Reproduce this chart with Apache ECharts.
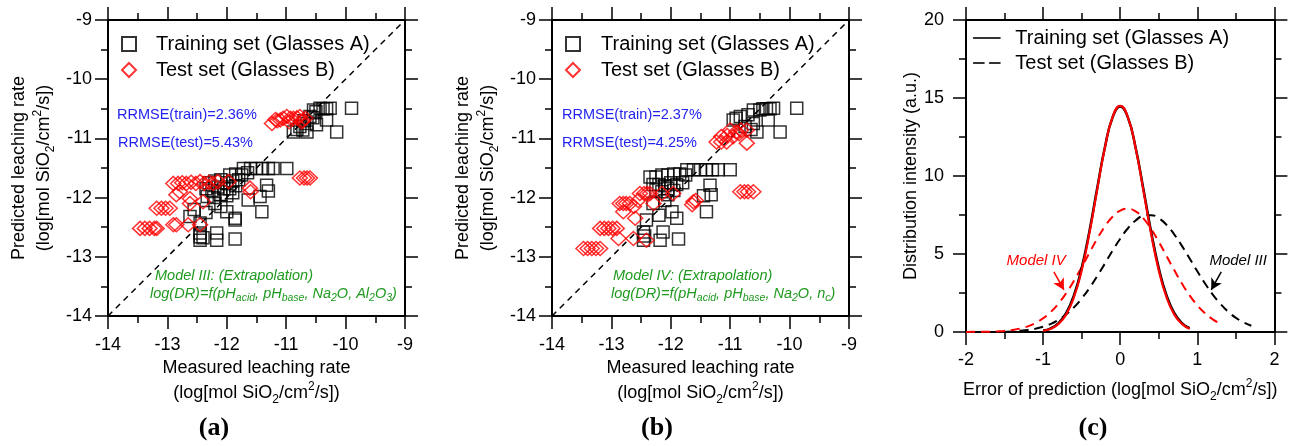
<!DOCTYPE html>
<html><head><meta charset="utf-8">
<script src="https://cdn.jsdelivr.net/npm/echarts@6/dist/echarts.min.js"></script>
<style>html,body{margin:0;padding:0;background:#fff}#c{width:1296px;height:446px}</style>
</head><body><div id="c"></div>
<script>
// ---------- DATA ----------
// Panel (a): Model III  [measured, predicted]
const aTrain = [
 [-9.90,-10.49],[-10.15,-10.89],[-10.26,-10.49],[-10.32,-10.50],[-10.38,-10.50],[-10.43,-10.49],[-10.50,-10.55],
 [-10.54,-10.52],[-10.60,-10.63],[-10.65,-10.75],[-10.70,-10.70],[-10.77,-10.80],[-10.82,-10.85],[-10.88,-10.89],
 [-10.65,-10.89],[-10.49,-10.77],[-10.32,-10.69],[-10.55,-10.65],[-10.72,-10.86],
 [-11.72,-11.51],[-11.60,-11.51],[-11.50,-11.51],[-11.40,-11.51],[-11.30,-11.51],[-11.22,-11.51],[-10.99,-11.51],
 [-11.95,-11.62],[-11.85,-11.60],[-11.75,-11.62],[-11.65,-11.58],
 [-12.30,-11.75],[-12.20,-11.72],[-12.10,-11.70],[-12.00,-11.75],[-11.90,-11.72],[-11.80,-11.70],
 [-12.35,-11.85],[-12.25,-11.88],[-12.15,-11.82],[-12.05,-11.85],[-11.95,-11.85],[-11.85,-11.80],
 [-12.33,-11.98],[-12.22,-12.00],[-12.10,-11.95],[-12.00,-11.97],[-11.90,-11.92],
 [-11.33,-11.79],[-11.30,-11.89],[-11.44,-11.98],[-11.64,-12.04],[-11.41,-12.24],[-12.00,-12.24],[-11.86,-12.35],
 [-12.20,-12.10],[-12.10,-12.15],
 [-12.62,-12.32],[-12.45,-12.43],[-12.45,-12.60],[-12.45,-12.66],[-12.45,-12.72],[-12.40,-12.68],[-12.17,-12.60],
 [-12.17,-12.72],[-11.86,-12.70],[-12.55,-12.20],[-12.35,-12.25],[-11.86,-12.38]
];
const aTest = [
 [-11.24,-10.75],[-11.18,-10.68],[-11.15,-10.70],[-11.10,-10.69],[-11.05,-10.66],[-10.99,-10.63],[-10.93,-10.66],
 [-10.88,-10.66],[-10.82,-10.65],[-10.77,-10.63],[-10.72,-10.70],[-10.68,-10.66],[-10.74,-10.72],[-10.95,-10.72],
 [-12.90,-11.76],[-12.82,-11.76],[-12.75,-11.75],[-12.68,-11.76],[-12.60,-11.74],[-12.52,-11.76],[-12.45,-11.73],
 [-12.38,-11.76],[-12.30,-11.74],[-12.23,-11.76],[-12.15,-11.73],[-11.97,-11.73],[-11.61,-11.84],[-11.60,-11.90],
 [-10.77,-11.67],[-10.70,-11.67],[-10.65,-11.67],[-10.60,-11.67],
 [-12.79,-11.90],[-12.85,-11.95],[-12.62,-12.10],[-12.40,-12.07],[-12.62,-12.02],
 [-13.18,-12.18],[-13.10,-12.18],[-13.03,-12.18],[-12.96,-12.18],
 [-13.46,-12.52],[-13.38,-12.52],[-13.30,-12.52],[-13.22,-12.52],[-13.18,-12.52],
 [-12.90,-12.46],[-12.85,-12.46],[-12.65,-12.46],[-12.45,-12.46]
];
// Panel (b): Model IV
const bTrain = [
 [-9.88,-10.49],[-10.16,-10.89],[-10.27,-10.49],[-10.33,-10.50],[-10.39,-10.50],[-10.45,-10.50],[-10.50,-10.52],
 [-10.61,-10.52],[-10.83,-10.63],[-10.95,-10.69],[-10.90,-10.66],[-10.61,-10.75],[-10.55,-10.89],[-10.36,-10.69],
 [-10.70,-10.60],[-10.75,-10.80],[-10.65,-10.85],
 [-11.73,-11.53],[-11.62,-11.53],[-11.50,-11.53],[-11.40,-11.53],[-11.30,-11.53],[-11.20,-11.53],[-11.00,-11.53],
 [-12.35,-11.65],[-12.25,-11.65],[-12.15,-11.62],[-12.05,-11.62],[-11.95,-11.60],[-11.85,-11.60],[-11.75,-11.62],
 [-12.30,-11.78],[-12.20,-11.78],[-12.10,-11.80],[-12.00,-11.75],[-11.90,-11.78],[-11.80,-11.75],
 [-12.25,-11.87],[-12.15,-11.90],[-12.05,-11.85],[-11.95,-11.88],
 [-11.34,-11.79],[-11.32,-11.95],[-11.45,-11.97],[-11.40,-12.24],[-11.98,-12.24],[-11.90,-12.35],[-12.10,-12.05],
 [-12.30,-12.10],[-12.05,-11.95],
 [-12.46,-12.58],[-12.46,-12.72],[-12.44,-12.65],[-12.13,-12.58],[-12.18,-12.72],[-11.87,-12.70],[-12.41,-12.38],[-12.20,-12.30]
];
const bTest = [
 [-11.23,-11.06],[-11.15,-11.06],[-11.06,-11.06],[-10.72,-11.08],[-11.00,-10.86],[-10.90,-10.89],[-10.82,-10.86],
 [-10.72,-10.86],[-10.95,-10.97],[-11.15,-10.97],[-11.05,-10.95],[-10.85,-10.92],
 [-12.86,-12.10],[-12.80,-12.10],[-12.75,-12.10],[-12.69,-12.10],[-12.52,-11.93],[-12.45,-11.93],[-12.40,-11.93],
 [-12.35,-11.93],[-12.80,-12.24],[-12.60,-12.35],[-12.29,-12.10],[-12.15,-11.93],[-11.96,-11.93],[-11.62,-12.07],
 [-11.64,-12.12],[-11.58,-12.05],
 [-10.83,-11.90],[-10.76,-11.90],[-10.70,-11.90],[-10.61,-11.90],
 [-12.55,-12.05],[-12.62,-12.15],
 [-13.19,-12.52],[-13.12,-12.52],[-13.05,-12.52],[-12.98,-12.52],[-12.91,-12.52],[-12.88,-12.69],[-12.63,-12.69],[-12.41,-12.72],
 [-13.47,-12.86],[-13.40,-12.86],[-13.33,-12.86],[-13.26,-12.86],[-13.19,-12.86]
];
const diagonal = [-14, -9];
// Panel (c): error distributions
const cXTrain = [-1.0,-0.9,-0.8,-0.7,-0.6,-0.5,-0.4,-0.3,-0.2,-0.1,0.0,0.1,0.2,0.3,0.4,0.5,0.6,0.7,0.8,0.9];
const cTrainIII = [0.09,0.24,0.57,1.22,2.36,4.10,6.45,9.18,11.81,13.74,14.45,13.74,11.81,9.18,6.45,4.10,2.36,1.22,0.57,0.24];
const cTrainIV  = [0.08,0.21,0.52,1.13,2.23,3.95,6.31,9.08,11.78,13.76,14.50,13.76,11.78,9.08,6.31,3.95,2.23,1.13,0.52,0.21];
const cXTestIV = [-2.0,-1.9,-1.8,-1.7,-1.6,-1.5,-1.4,-1.3,-1.2,-1.1,-1.0,-0.9,-0.8,-0.7,-0.6,-0.5,-0.4,-0.3,-0.2,-0.1,
                  0.0,0.1,0.2,0.3,0.4,0.5,0.6,0.7,0.8,0.9,1.0,1.1,1.2,1.3];
const cTestIV = [0.00,0.01,0.01,0.02,0.04,0.07,0.13,0.22,0.36,0.58,0.88,1.29,1.83,2.49,3.28,4.15,5.07,5.96,6.76,7.39,
                 7.78,7.90,7.73,7.28,6.61,5.79,4.88,3.97,3.11,2.35,1.71,1.20,0.81,0.53];
const cXTestIII = [-1.5,-1.4,-1.3,-1.2,-1.1,-1.0,-0.9,-0.8,-0.7,-0.6,-0.5,-0.4,-0.3,-0.2,-0.1,0.0,0.1,0.2,0.3,0.4,
                   0.5,0.6,0.7,0.8,0.9,1.0,1.1,1.2,1.3,1.4,1.5,1.6,1.7];
const cTestIII = [0.02,0.04,0.08,0.13,0.21,0.34,0.52,0.78,1.13,1.58,2.15,2.81,3.57,4.38,5.21,5.98,6.65,7.15,7.44,7.49,
                  7.29,6.87,6.26,5.52,4.71,3.89,3.11,2.40,1.80,1.30,0.91,0.62,0.40];
const rrmseA = ['RRMSE(train)=2.36%', 'RRMSE(test)=5.43%'];
const rrmseB = ['RRMSE(train)=2.37%', 'RRMSE(test)=4.25%'];
const legendNames = {aTrain:'Training set (Glasses A)', aTest:'Test set (Glasses B)',
  bTrain:'Training set (Glasses A)', bTest:'Test set (Glasses B)',
  cTrain:'Training set (Glasses A)', cTest:'Test set (Glasses B)'};

// ---------- CHART ----------
const FF = '"Liberation Sans", Arial, Helvetica, sans-serif';
const zip = (xs, ys) => xs.map((x, i) => [x, ys[i]]);
const richName = {
  n: {fontSize: 18, lineHeight: 25, fontFamily: FF, color: '#000'},
  sub: {fontSize: 12, lineHeight: 12, verticalAlign: 'bottom', fontFamily: FF, color: '#000'},
  sup: {fontSize: 12, lineHeight: 13, verticalAlign: 'top', fontFamily: FF, color: '#000'}
};
const unitLine = '{n|(log[mol SiO}{sub|2}{n|/cm}{sup|2}{n|/s])}';

function axis(grid, min, max, interval, opts) {
  opts = opts || {};
  const a = {
    type: 'value', gridIndex: grid, min: min, max: max, interval: interval,
    position: opts.position,
    axisLine: {show: true, onZero: false, lineStyle: {color: '#000', width: 2}},
    axisTick: {show: true, inside: false, length: 13, lineStyle: {color: '#000', width: 1.5}},
    minorTick: {show: true, splitNumber: 2, length: 7, lineStyle: {color: '#000', width: 1.5}},
    splitLine: {show: false}, minorSplitLine: {show: false},
    axisLabel: opts.labels
      ? {show: true, fontSize: 18, fontFamily: FF, margin: opts.margin, color: '#000'}
      : {show: true, fontSize: 5, fontFamily: FF, margin: 13, color: '#fff'}
  };
  if (opts.name) {
    a.name = opts.name; a.nameLocation = 'middle'; a.nameGap = opts.nameGap;
    a.nameTextStyle = {rich: richName, align: 'center'};
  }
  return a;
}

const grids = [
  {left: 108, top: 20, width: 297, height: 296},
  {left: 552, top: 20, width: 297, height: 296},
  {left: 966, top: 20, width: 311, height: 312}
];

const xAxes = [], yAxes = [];
[0, 1].forEach(g => {
  xAxes.push(axis(g, -14, -9, 1, {position: 'bottom', labels: true, margin: 20,
    name: '{n|Measured leaching rate}\n' + unitLine, nameGap: 36}));
  xAxes.push(axis(g, -14, -9, 1, {position: 'top'}));
  yAxes.push(axis(g, -14, -9, 1, {position: 'left', labels: true, margin: 16,
    name: '{n|Predicted leaching rate}\n' + unitLine, nameGap: 51}));
  yAxes.push(axis(g, -14, -9, 1, {position: 'right'}));
});
xAxes.push(axis(2, -2, 2, 1, {position: 'bottom', labels: true, margin: 19,
  name: '{n|Error of prediction (log[mol SiO}{sub|2}{n|/cm}{sup|2}{n|/s])}', nameGap: 46}));
xAxes.push(axis(2, -2, 2, 1, {position: 'top'}));
yAxes.push(axis(2, 0, 20, 5, {position: 'left', labels: true, margin: 22,
  name: '{n|Distribution intensity (a.u.)}', nameGap: 42}));
yAxes.push(axis(2, 0, 20, 5, {position: 'right'}));

const sqStyle = {color: 'rgba(0,0,0,0)', borderColor: '#000', borderWidth: 1.5};
const dmStyle = {color: 'rgba(0,0,0,0)', borderColor: '#ff0000', borderWidth: 1.5};
function scatterSet(g, train, test, nTrain, nTest) {
  return [
    {type: 'line', xAxisIndex: 2 * g, yAxisIndex: 2 * g, data: [[diagonal[0], diagonal[0]], [diagonal[1], diagonal[1]]],
     symbol: 'none', lineStyle: {color: '#000', width: 1.5, type: [6, 5]}, silent: true, z: 1},
    {type: 'scatter', name: nTrain, xAxisIndex: 2 * g, yAxisIndex: 2 * g, data: train,
     symbol: 'rect', symbolSize: 12, itemStyle: sqStyle, z: 2},
    {type: 'scatter', name: nTest, xAxisIndex: 2 * g, yAxisIndex: 2 * g, data: test,
     symbol: 'diamond', symbolSize: [15, 14], itemStyle: dmStyle, z: 3},
    {type: 'scatter', xAxisIndex: 2 * g + 1, yAxisIndex: 2 * g + 1, data: [[diagonal[0], diagonal[0]]],
     symbolSize: 0, silent: true, itemStyle: {opacity: 0}}
  ];
}

const series = [].concat(
  scatterSet(0, aTrain, aTest, 'aTrain', 'aTest'),
  scatterSet(1, bTrain, bTest, 'bTrain', 'bTest'),
  [
    {type: 'scatter', xAxisIndex: 5, yAxisIndex: 5, data: [[-2, 0]], symbolSize: 0, silent: true, itemStyle: {opacity: 0}},
    {type: 'line', name: 'cTest', xAxisIndex: 4, yAxisIndex: 4, data: zip(cXTestIII, cTestIII), smooth: true,
     symbol: 'none', lineStyle: {color: '#000', width: 2, type: [9, 6]}, itemStyle: {color: '#000'}, z: 2,
     markLine: {silent: true, symbol: ['none', 'arrow'], symbolSize: [9, 11],
       lineStyle: {color: '#000', width: 1.5, type: 'solid'}, label: {show: false},
       data: [[{coord: [1.31, 3.85]}, {coord: [1.18, 2.7]}]]},
     markPoint: {silent: true, symbol: 'circle', symbolSize: 0,
       label: {show: true, position: 'inside', formatter: 'Model III', fontSize: 15, fontStyle: 'italic', fontFamily: FF, color: '#000'},
       data: [{coord: [1.53, 4.55]}]}},
    {type: 'line', name: 'cTestIV', xAxisIndex: 4, yAxisIndex: 4, data: zip(cXTestIV, cTestIV), smooth: true,
     symbol: 'none', lineStyle: {color: '#ff0000', width: 2, type: [9, 6]}, itemStyle: {color: '#ff0000'}, z: 3,
     markLine: {silent: true, symbol: ['none', 'arrow'], symbolSize: [9, 11],
       lineStyle: {color: '#ff0000', width: 1.5, type: 'solid'}, label: {show: false},
       data: [[{coord: [-0.86, 3.85]}, {coord: [-0.73, 2.7]}]]},
     markPoint: {silent: true, symbol: 'circle', symbolSize: 0,
       label: {show: true, position: 'inside', formatter: 'Model IV', fontSize: 15, fontStyle: 'italic', fontFamily: FF, color: '#ff0000'},
       data: [{coord: [-1.09, 4.55]}]}},
    {type: 'line', name: 'cTrain', xAxisIndex: 4, yAxisIndex: 4, data: zip(cXTrain, cTrainIII), smooth: true,
     symbol: 'none', lineStyle: {color: '#000', width: 2.5}, itemStyle: {color: '#000'}, z: 4},
    {type: 'line', name: 'cTrainIV', xAxisIndex: 4, yAxisIndex: 4, data: zip(cXTrain, cTrainIV), smooth: true,
     symbol: 'none', lineStyle: {color: '#ff0000', width: 2.2}, itemStyle: {color: '#ff0000'}, z: 5}
  ]
);

function legendFor(data, left, top, iw, ih, pad, gap, extra) {
  return Object.assign({data: data, orient: 'vertical', left: left, top: top, itemWidth: iw, itemHeight: ih, itemGap: gap,
    padding: 0, selectedMode: false, formatter: n => legendNames[n],
    textStyle: {fontSize: 20, fontFamily: FF, color: '#000', padding: [0, 0, 0, pad]}}, extra || {});
}

const blue = '#2323f0', green = '#1f9a1f';
function txt(x, y, text, color, size, italic) {
  return {type: 'text', x: x, y: y, silent: true,
    style: {text: text, fill: color, font: (italic ? 'italic ' : '') + size + 'px ' + FF, verticalAlign: 'middle', align: 'left'}};
}
function formula(x, y, parts) {
  let t = '';
  parts.forEach(p => { t += (p[1] ? '{s|' : '{g|') + p[0] + '}'; });
  return {type: 'text', x: x, y: y, silent: true,
    style: {text: t, verticalAlign: 'middle', align: 'left',
      rich: {g: {fontSize: 14.5, lineHeight: 20, fontStyle: 'italic', fontFamily: FF, fill: green, color: green},
             s: {fontSize: 10.5, lineHeight: 10, verticalAlign: 'bottom', fontStyle: 'italic', fontFamily: FF, fill: green, color: green}}}};
}
function panelLabel(x, t) {
  return {type: 'text', x: x, y: 428, silent: true,
    style: {text: t, fill: '#000', font: 'bold 26px "Liberation Serif", "Times New Roman", serif', align: 'center', verticalAlign: 'middle'}};
}
const fA = [['log(DR)=f(pH'], ['acid', 1], [', pH'], ['base', 1], [', Na'], ['2', 1], ['O, Al'], ['2', 1], ['O'], ['3', 1], [')']];
const fB = [['log(DR)=f(pH'], ['acid', 1], [', pH'], ['base', 1], [', Na'], ['2', 1], ['O, n'], ['c', 1], [')']];

const option = {
  animation: false,
  grid: grids,
  xAxis: xAxes,
  yAxis: yAxes,
  legend: [
    legendFor(['aTrain', 'aTest'], 121, 34, 14, 14, 15, 6),
    legendFor(['bTrain', 'bTest'], 565, 34, 14, 14, 16, 6),
    legendFor([{name: 'cTrain', icon: 'path://M0,0H27V1H0Z'},
               {name: 'cTest', icon: 'path://M0,0H11V1H0ZM16,0H27V1H16Z'}], 973, 28, 27, 2, 10, 5,
      {itemStyle: {color: '#000', borderColor: '#000', borderWidth: 0.6}})
  ],
  graphic: [
    txt(117, 115, rrmseA[0], blue, 14.5), txt(118, 143, rrmseA[1], blue, 14.5),
    txt(562, 115, rrmseB[0], blue, 14.5), txt(562, 143, rrmseB[1], blue, 14.5),
    txt(155, 276, 'Model III: (Extrapolation)', green, 14.5, true),
    formula(150, 294, fA),
    txt(613, 276, 'Model IV: (Extrapolation)', green, 14.5, true),
    formula(611, 294, fB),
    panelLabel(214, '(a)'), panelLabel(657, '(b)'), panelLabel(1093, '(c)')
  ],
  series: series
};
const chart = echarts.init(document.getElementById('c'), null, {renderer: 'canvas'});
chart.setOption(option);
</script>
</body></html>
